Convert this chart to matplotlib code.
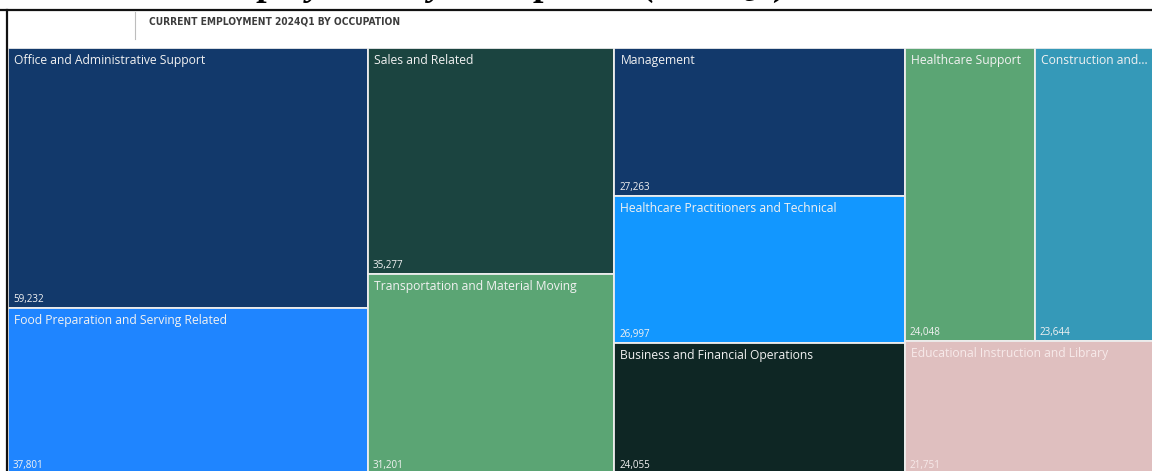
import matplotlib
matplotlib.use("Agg")
import matplotlib.pyplot as plt
from matplotlib.patches import Rectangle
from matplotlib.lines import Line2D

W, H = 1152, 471
DPI = 100

title = "Employment by Occupation (2024Q1)"
header = "CURRENT EMPLOYMENT 2024Q1 BY OCCUPATION"

categories = [
    "Office and Administrative Support",
    "Food Preparation and Serving Related",
    "Sales and Related",
    "Transportation and Material Moving",
    "Management",
    "Healthcare Practitioners and Technical",
    "Business and Financial Operations",
    "Healthcare Support",
    "Construction and Extraction",
    "Educational Instruction and Library",
]
values = [59232, 37801, 35277, 31201, 27263, 26997, 24055, 24048, 23644, 21751]
colors = ["#12396B", "#1F85FF", "#1B4440", "#5BA574", "#12396B",
          "#1297FF", "#0E2624", "#5BA574", "#3599B8", "#DFBFBF"]

# treemap slicing structure (h = side by side, v = stacked)
layout = ("h", [("v", [0, 1]), ("v", [2, 3]), ("v", [4, 5, 6]),
                ("v", [("h", [7, 8]), 9])])


def node_sum(node):
    if isinstance(node, int):
        return values[node]
    return sum(node_sum(c) for c in node[1])


rects = {}


def place(node, x0, y0, w, h):
    if isinstance(node, int):
        rects[node] = (x0, y0, w, h)
        return
    kind, children = node
    tot = node_sum(node)
    pos = 0.0
    for c in children:
        frac = node_sum(c) / tot
        if kind == "h":
            place(c, x0 + pos * w, y0, frac * w, h)
        else:
            place(c, x0, y0 + pos * h, w, frac * h)
        pos += frac


place(layout, 0.0, 0.0, 1.0, 1.0)

fig = plt.figure(figsize=(W / DPI, H / DPI), dpi=DPI)
fig.patch.set_facecolor("white")

# treemap axes in pixel geometry (extends slightly beyond right/bottom edge)
L, R, T, B = 8.0, 1162.5, 48, 474
ax = fig.add_axes([L / W, 1 - B / H, (R - L) / W, (B - T) / H])
ax.set_xlim(0, 1)
ax.set_ylim(1, 0)
ax.axis("off")

fig.canvas.draw()
renderer = fig.canvas.get_renderer()

label_font = dict(family=["Open Sans", "DejaVu Sans"], size=8.7)
value_font = dict(family=["Open Sans", "DejaVu Sans"], size=7.1)

for i, (cat, val, col) in enumerate(zip(categories, values, colors)):
    x0, y0, w, h = rects[i]
    ax.add_patch(Rectangle((x0, y0), w, h, facecolor=col,
                           edgecolor="#EDEDED", linewidth=1.3))
    txtcol = "#F2F2F2" if i != 9 else "#F7EAEA"
    left_px = L + x0 * (R - L)
    right_px = min(L + (x0 + w) * (R - L), W)
    avail = right_px - left_px - 2
    t = ax.annotate(cat, xy=(x0, y0), xytext=(6, -6), textcoords="offset pixels",
                    ha="left", va="top", color=txtcol, **label_font)
    # truncate with ellipsis like the original
    s = cat
    while t.get_window_extent(renderer).width > avail and len(s) > 1:
        s = s[:-1]
        t.set_text(s.rstrip() + "...")
    ax.annotate(f"{val:,}", xy=(x0, y0 + h), xytext=(5, 6),
                textcoords="offset pixels", ha="left", va="baseline",
                color=txtcol, **value_font)

# frame lines
fig.add_artist(Line2D([0, 1], [1 - 9.5 / H, 1 - 9.5 / H], color="#111111",
                      linewidth=1.6, transform=fig.transFigure))
fig.add_artist(Line2D([6.8 / W, 6.8 / W], [0, 1 - 9.5 / H], color="#111111",
                      linewidth=1.6, transform=fig.transFigure))
fig.add_artist(Line2D([135 / W, 135 / W], [1 - 12 / H, 1 - 39 / H],
                      color="#BDBDBD", linewidth=0.8, transform=fig.transFigure))

fig.text(149 / W, 1 - 22 / H, header, ha="left", va="center",
         fontsize=7.3, fontweight="bold", fontstretch="condensed",
         family="DejaVu Sans", color="#3C3C3C")

# title (mostly above the visible area, as in the original crop)
fig.text(205 / W, 1 + 5 / H, title, ha="left", va="baseline",
         fontsize=27, fontweight="bold", fontstyle="italic",
         family=["Liberation Serif", "DejaVu Serif"], color="black")

fig.savefig("out.png", dpi=DPI, facecolor="white")
